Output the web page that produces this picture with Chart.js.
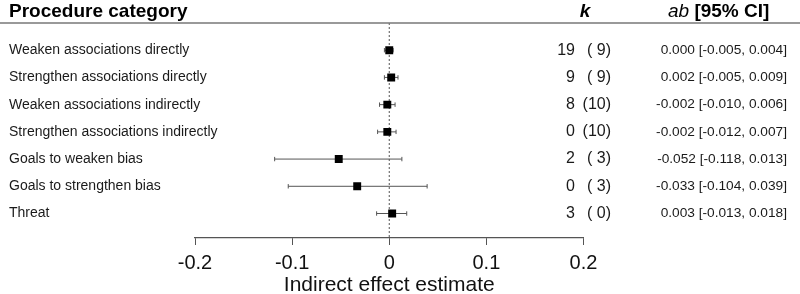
<!DOCTYPE html>
<html>
<head>
<meta charset="utf-8">
<script src="https://cdn.jsdelivr.net/npm/chart.js@4.4.1/dist/chart.umd.min.js"></script>
<style>
  html, body { margin: 0; padding: 0; background: #fff; }
  #wrap { position: relative; width: 800px; height: 294px; }
</style>
</head>
<body>
<div id="wrap"><canvas id="forest"></canvas></div>
<script>
const categories = [
  'Weaken associations directly',
  'Strengthen associations directly',
  'Weaken associations indirectly',
  'Strengthen associations indirectly',
  'Goals to weaken bias',
  'Goals to strengthen bias',
  'Threat'
];
const estimates = [0.000, 0.002, -0.002, -0.002, -0.052, -0.033, 0.003];
const ciLower   = [-0.005, -0.005, -0.010, -0.012, -0.118, -0.104, -0.013];
const ciUpper   = [0.004, 0.009, 0.006, 0.007, 0.013, 0.039, 0.018];
const kCounts   = [19, 9, 8, 0, 2, 0, 3];
const kParen    = [9, 9, 10, 10, 3, 3, 0];
const xTicks    = [-0.2, -0.1, 0, 0.1, 0.2];

const FONT = '"Liberation Sans", Arial, Helvetica, sans-serif';
const rowY = i => i + 1;

// one short line per CI, end caps via rotated 'line' points
const ciSets = categories.map((c, i) => ({
  type: 'line',
  data: [{ x: ciLower[i], y: rowY(i) }, { x: ciUpper[i], y: rowY(i) }],
  borderColor: '#555',
  borderWidth: 1,
  pointStyle: 'line',
  pointRotation: 90,
  pointRadius: 2.2,
  pointBorderColor: '#555',
  pointBorderWidth: 1,
  order: 1,
}));

const zeroLine = {
  type: 'line',
  data: [{ x: 0, y: 0 }, { x: 0, y: 7.9 }],
  borderColor: '#555',
  borderWidth: 1,
  borderDash: [2, 2],
  pointRadius: 0,
  order: 2,
};

const pointSet = {
  type: 'scatter',
  data: estimates.map((v, i) => ({ x: v, y: rowY(i) })),
  backgroundColor: '#000',
  borderWidth: 0,
  pointStyle: 'rect',
  pointRadius: 5.6,
  order: 0,
};

const tablePlugin = {
  id: 'table',
  afterDraw(chart) {
    const ctx = chart.ctx;
    const y = chart.scales.y;
    ctx.save();

    // header
    ctx.fillStyle = '#000';
    ctx.textBaseline = 'middle';
    ctx.textAlign = 'left';
    ctx.font = 'bold 19px ' + FONT;
    ctx.fillText('Procedure category', 9, 12);

    ctx.textAlign = 'center';
    ctx.font = 'italic bold 19px ' + FONT;
    ctx.fillText('k', 585, 12);

    ctx.textAlign = 'left';
    ctx.font = 'italic 19px ' + FONT;
    ctx.fillText('ab', 668, 12);
    const abW = ctx.measureText('ab ').width;
    ctx.font = 'bold 19px ' + FONT;
    ctx.fillText('[95% CI]', 668 + abW, 12);

    ctx.strokeStyle = '#777';
    ctx.lineWidth = 1.5;
    ctx.beginPath();
    ctx.moveTo(0, 23);
    ctx.lineTo(800, 23);
    ctx.stroke();

    // rows
    ctx.fillStyle = '#1a1a1a';
    categories.forEach((c, i) => {
      const py = y.getPixelForValue(rowY(i));
      ctx.textAlign = 'left';
      ctx.font = '14px ' + FONT;
      ctx.fillText(c, 9, py);

      ctx.textAlign = 'right';
      ctx.font = '16px ' + FONT;
      ctx.fillText(String(kCounts[i]), 575, py);
      const p = kParen[i] < 10 ? ' ' + kParen[i] : String(kParen[i]);
      ctx.fillText('(' + p + ')', 611, py);

      ctx.font = '13.7px ' + FONT;
      const ab = estimates[i].toFixed(3) + ' [' + ciLower[i].toFixed(3) + ', ' + ciUpper[i].toFixed(3) + ']';
      ctx.fillText(ab, 787, py);
    });
    ctx.restore();
  }
};

new Chart(document.getElementById('forest'), {
  data: { datasets: [pointSet, ...ciSets, zeroLine] },
  options: {
    responsive: true,
    maintainAspectRatio: false,
    animation: false,
    layout: { padding: { left: 195, right: 216.5, top: 23, bottom: 0 } },
    plugins: { legend: { display: false }, tooltip: { enabled: false } },
    scales: {
      x: {
        type: 'linear',
        position: 'bottom',
        min: -0.2,
        max: 0.2,
        afterBuildTicks: s => { s.ticks = xTicks.map(v => ({ value: v })); },
        afterFit: s => { s.height = 56; },
        grid: { drawOnChartArea: false, drawTicks: true, tickLength: 7, color: '#555', lineWidth: 1 },
        border: { display: true, color: '#555', width: 1.2 },
        ticks: {
          color: '#111',
          padding: 6,
          maxRotation: 0,
          font: { family: FONT, size: 20 },
          callback: v => String(v)
        },
        title: {
          display: true,
          text: 'Indirect effect estimate',
          color: '#111',
          font: { family: FONT, size: 21, lineHeight: 0.85 },
          padding: { top: 0, bottom: 0 }
        }
      },
      y: {
        type: 'linear',
        display: false,
        reverse: true,
        min: 0,
        max: 7.9
      }
    }
  },
  plugins: [tablePlugin]
});
</script>
</body>
</html>
